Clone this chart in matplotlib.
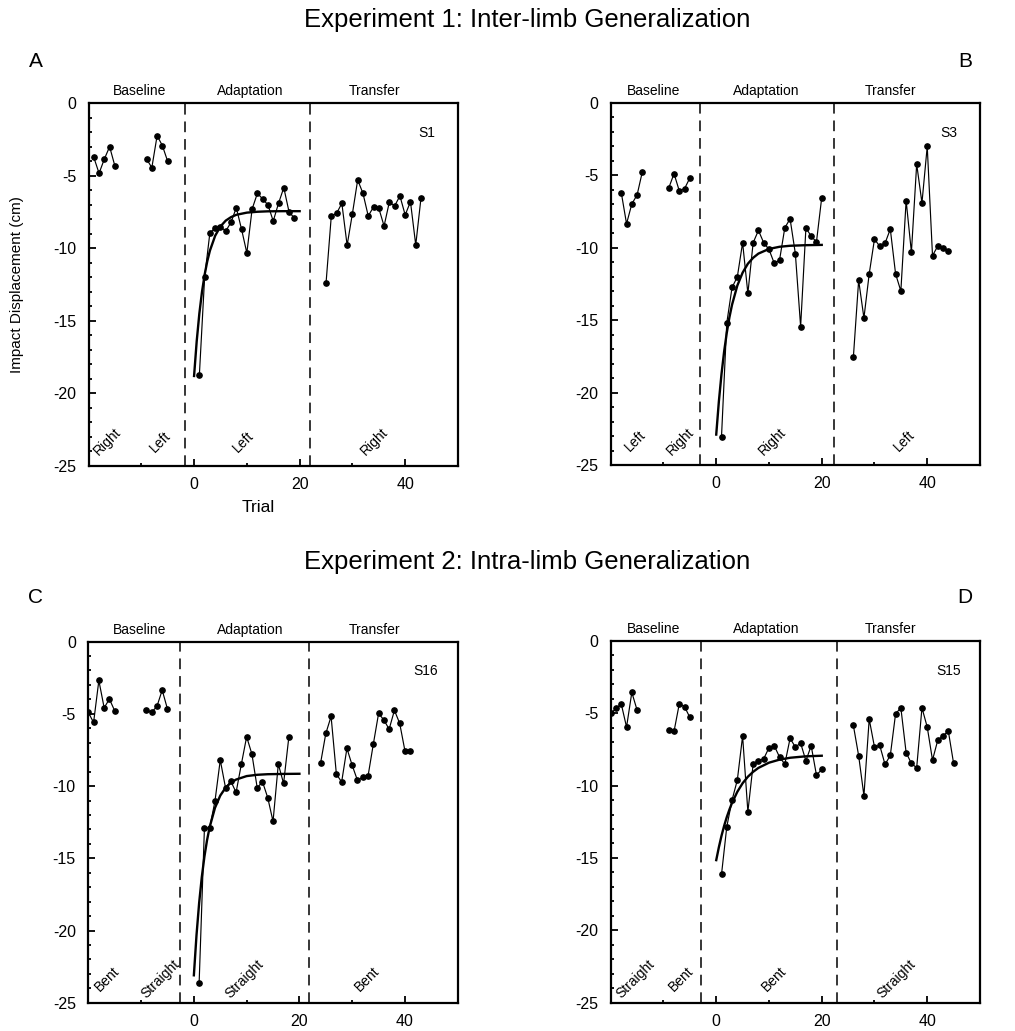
import matplotlib
matplotlib.use("Agg")
import matplotlib.pyplot as plt
import matplotlib.transforms as mtransforms
from matplotlib.ticker import MultipleLocator, FixedLocator

plt.rcParams['font.family'] = ['Liberation Sans', 'DejaVu Sans']
plt.rcParams['axes.unicode_minus'] = False

# ── Panel A (S1, inter-limb) ──
a_base1_x = [-19, -18, -17, -16, -15]
a_base1_y = [-3.74, -4.84, -3.86, -3.01, -4.34]
a_base2_x = [-9, -8, -7, -6, -5]
a_base2_y = [-3.86, -4.45, -2.25, -2.94, -4.02]
a_adapt_x = list(range(1, 20))
a_adapt_y = [-18.76, -12.0, -8.93, -8.61, -8.52, -8.82, -8.22, -7.21, -8.70, -10.33,
             -7.30, -6.22, -6.61, -7.02, -8.13, -6.91, -5.83, -7.51, -7.92]
a_trans_x = list(range(25, 44))
a_trans_y = [-12.42, -7.78, -7.60, -6.91, -9.80, -7.62, -5.30, -6.22, -7.78, -7.16,
             -7.25, -8.47, -6.82, -7.09, -6.40, -7.71, -6.80, -9.78, -6.52]

# ── Panel B (S3, inter-limb) ──
b_base1_x = [-18, -17, -16, -15, -14]
b_base1_y = [-6.19, -8.34, -6.97, -6.35, -4.74]
b_base2_x = [-9, -8, -7, -6, -5]
b_base2_y = [-5.87, -4.88, -6.07, -5.91, -5.18]
b_adapt_x = list(range(1, 21))
b_adapt_y = [-23.05, -15.19, -12.74, -12.01, -9.65, -13.15, -9.65, -8.80, -9.65, -10.11,
             -11.07, -10.86, -8.62, -8.00, -10.40, -15.44, -8.64, -9.19, -9.60, -6.53]
b_trans_x = list(range(26, 45))
b_trans_y = [-17.55, -12.24, -14.85, -11.80, -9.40, -9.90, -9.69, -8.71, -11.80, -12.99,
             -6.74, -10.31, -4.22, -6.90, -3.00, -10.54, -9.88, -9.99, -10.20]

# ── Panel C (S16, intra-limb) ──
c_base1_x = [-20, -19, -18, -17, -16, -15]
c_base1_y = [-4.90, -5.60, -2.69, -4.58, -3.98, -4.79]
c_base2_x = [-9, -8, -7, -6, -5]
c_base2_y = [-4.76, -4.88, -4.49, -3.36, -4.67]
c_adapt_x = list(range(1, 19))
c_adapt_y = [-23.61, -12.93, -12.89, -11.04, -8.20, -10.12, -9.66, -10.44, -8.48, -6.59,
             -7.79, -10.12, -9.70, -10.81, -12.45, -8.48, -9.82, -6.59]
c_trans_x = list(range(24, 42))
c_trans_y = [-8.43, -6.36, -5.18, -9.17, -9.72, -7.39, -8.57, -9.61, -9.40, -9.31,
             -7.10, -4.97, -5.43, -6.06, -4.76, -5.66, -7.58, -7.58]

# ── Panel D (S15, intra-limb) ──
d_base1_x = [-20, -19, -18, -17, -16, -15]
d_base1_y = [-5.02, -4.67, -4.37, -5.96, -3.57, -4.79]
d_base2_x = [-9, -8, -7, -6, -5]
d_base2_y = [-6.17, -6.26, -4.35, -4.56, -5.29]
d_adapt_x = list(range(1, 21))
d_adapt_y = [-16.14, -12.85, -11.00, -9.62, -6.58, -11.81, -8.52, -8.29, -8.15, -7.39,
             -7.25, -8.03, -8.52, -6.74, -7.34, -7.07, -8.29, -7.25, -9.28, -8.89]
d_trans_x = list(range(26, 46))
d_trans_y = [-5.85, -7.94, -10.70, -5.41, -7.34, -7.23, -8.54, -7.92, -5.04, -4.63,
             -7.73, -8.47, -8.77, -4.63, -5.96, -8.24, -6.86, -6.56, -6.24, -8.47]

# exponential fit curves
fit_x = [0, 0.5, 1, 1.5, 2, 2.5, 3, 4, 5, 6, 7, 8, 10, 12, 14, 17, 20]
a_fit_y = [-18.80, -16.40, -14.50, -13.01, -11.83, -10.90, -10.17, -9.14, -8.50, -8.10,
           -7.86, -7.70, -7.55, -7.49, -7.46, -7.45, -7.45]
b_fit_y = [-22.90, -20.61, -18.72, -17.16, -15.87, -14.80, -13.93, -12.61, -11.72, -11.10,
           -10.69, -10.40, -10.08, -9.93, -9.86, -9.82, -9.80]
c_fit_y = [-23.10, -20.32, -18.09, -16.31, -14.88, -13.74, -12.83, -11.51, -10.66, -10.12,
           -9.77, -9.55, -9.31, -9.22, -9.18, -9.16, -9.15]
d_fit_y = [-15.15, -14.26, -13.47, -12.78, -12.18, -11.66, -11.19, -10.43, -9.84, -9.39,
           -9.05, -8.78, -8.42, -8.21, -8.08, -7.98, -7.94]

section_names = ['Baseline', 'Adaptation', 'Transfer']


def draw_panel(ax, segments, fit_y, dividers, section_x, subject, conds, cond_x):
    for xs, ys in segments:
        ax.plot(xs, ys, '-o', color='black', lw=0.85, ms=3.8, zorder=3)
    ax.plot(fit_x, fit_y, color='black', lw=1.7, zorder=4)
    for xd in dividers:
        ax.axvline(xd, color='black', lw=1.1, ls=(0, (7, 4.5)))

    ax.set_xlim(-20, 50)
    ax.set_ylim(-25, 0)
    ax.xaxis.set_major_locator(FixedLocator([0, 20, 40]))
    ax.xaxis.set_minor_locator(FixedLocator([-10, 10, 30]))
    ax.yaxis.set_major_locator(MultipleLocator(5))
    ax.yaxis.set_minor_locator(MultipleLocator(1))
    ax.tick_params(which='both', direction='in', top=False, right=False,
                   labelsize=11.5, width=1.3)
    ax.tick_params(which='major', length=5, pad=8)
    ax.tick_params(which='minor', length=2.5)
    ax.tick_params(axis='y', which='major', pad=9)
    for sp in ax.spines.values():
        sp.set_linewidth(1.6)

    trans = mtransforms.blended_transform_factory(ax.transData, ax.transAxes)
    for name, sx in zip(section_names, section_x):
        ax.text(sx, 1.033, name, transform=trans, ha='center', va='center', fontsize=10)

    ax.text(44, -2.07, subject, ha='center', va='center', fontsize=10)
    for label, cx in zip(conds, cond_x):
        ax.text(cx, -23.35, label, rotation=45, ha='center', va='center', fontsize=10)


fig = plt.figure(figsize=(10.15, 10.31), dpi=100)
ax_a = fig.add_axes([0.0872, 0.5480, 0.3640, 0.3521])
ax_b = fig.add_axes([0.6017, 0.5490, 0.3638, 0.3511])
ax_c = fig.add_axes([0.0870, 0.0274, 0.3640, 0.3503])
ax_d = fig.add_axes([0.6017, 0.0274, 0.3638, 0.3511])

draw_panel(ax_a,
           [(a_base1_x, a_base1_y), (a_base2_x, a_base2_y),
            (a_adapt_x, a_adapt_y), (a_trans_x, a_trans_y)],
           a_fit_y, [-1.7, 22.0], [-10.4, 10.6, 34.2], 'S1',
           ['Right', 'Left', 'Left', 'Right'], [-16.5, -6.4, 9.3, 34.2])
draw_panel(ax_b,
           [(b_base1_x, b_base1_y), (b_base2_x, b_base2_y),
            (b_adapt_x, b_adapt_y), (b_trans_x, b_trans_y)],
           b_fit_y, [-3.1, 22.4], [-11.8, 9.4, 33.0], 'S3',
           ['Left', 'Right', 'Right', 'Left'], [-15.3, -6.7, 10.7, 35.7])
draw_panel(ax_c,
           [(c_base1_x, c_base1_y), (c_base2_x, c_base2_y),
            (c_adapt_x, c_adapt_y), (c_trans_x, c_trans_y)],
           c_fit_y, [-2.6, 21.8], [-10.2, 10.7, 34.2], 'S16',
           ['Bent', 'Straight', 'Straight', 'Bent'], [-16.5, -6.4, 9.6, 32.9])
draw_panel(ax_d,
           [(d_base1_x, d_base1_y), (d_base2_x, d_base2_y),
            (d_adapt_x, d_adapt_y), (d_trans_x, d_trans_y)],
           d_fit_y, [-2.9, 22.9], [-11.8, 9.4, 33.0], 'S15',
           ['Straight', 'Bent', 'Bent', 'Straight'], [-15.3, -6.7, 11.0, 34.2])

ax_a.set_ylabel('Impact Displacement (cm)', fontsize=11)
ax_a.yaxis.set_label_coords(-0.175, 0.5)
ax_a.set_xlabel('Trial', fontsize=12.5)
ax_a.xaxis.set_label_coords(0.459, -0.094)

fig.text(0.519, 0.981, 'Experiment 1: Inter-limb Generalization', ha='center', va='center', fontsize=18.5)
fig.text(0.519, 0.455, 'Experiment 2: Intra-limb Generalization', ha='center', va='center', fontsize=18.5)
for letter, lx, ly in [('A', 0.035, 0.940), ('B', 0.951, 0.940), ('C', 0.035, 0.420), ('D', 0.951, 0.420)]:
    fig.text(lx, ly, letter, ha='center', va='center', fontsize=15)

fig.savefig('out.png', dpi=100)
